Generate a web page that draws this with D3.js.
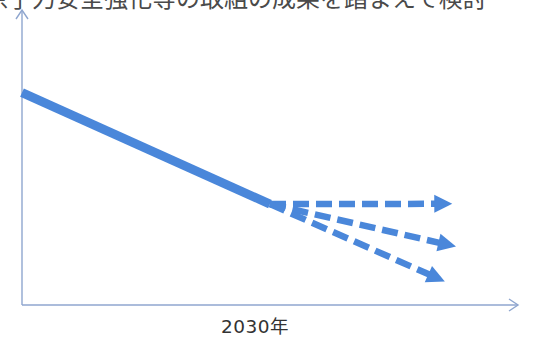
<!DOCTYPE html>
<html>
<head>
<meta charset="utf-8">
<script src="https://cdn.jsdelivr.net/npm/d3@7"></script>
<style>
  html, body { margin: 0; padding: 0; background: #fff; }
  svg { display: block; }
</style>
</head>
<body>
<svg id="chart" width="549" height="338"></svg>
<script>
// Headline (first line of the caption, partly above the visible area)
const headline = "原子力安全強化等の取組の成果を踏まえて検討";

// Axis label
const xTickLabel = "2030年";
const xTickYear = 2030;

// Past trend (solid line): [year, value]
const trendYears  = [2010, 2030];
const trendValues = [72, 34.2];

// Scenarios after 2030 (dashed arrows): start is the end of the trend
const scenarioNames  = ["維持", "緩やかな減少", "大幅な減少"];
const scenarioEndYears  = [2044.7, 2045.0, 2044.1];
const scenarioEndValues = [34.3, 19.8, 8.0];

const svg = d3.select("#chart");

const x = d3.scaleLinear().domain([2010, 2050]).range([22, 518]);
const y = d3.scaleLinear().domain([0, 100]).range([305, 10]);

const axisColor = "#8fa6cf";
const lineColor = "#4a87da";

// Headline text, clipped by the top edge
svg.append("text")
  .attr("x", -16)
  .attr("y", 7)
  .attr("font-family", "'Noto Sans CJK JP', sans-serif")
  .attr("font-size", 24)
  .attr("fill", "#4a4a4a")
  .text(headline);

// Axes with open arrowheads
const axisG = svg.append("g")
  .attr("stroke", axisColor)
  .attr("stroke-width", 1.4)
  .attr("fill", "none");

const x0 = x.range()[0], x1 = x.range()[1];
const y0 = y.range()[0], y1 = y.range()[1];

axisG.append("line").attr("x1", x0).attr("y1", y0).attr("x2", x0).attr("y2", y1);
axisG.append("path").attr("d", `M${x0 - 6},${y1 + 9} L${x0},${y1} L${x0 + 6},${y1 + 9}`);
axisG.append("line").attr("x1", x0).attr("y1", y0).attr("x2", x1).attr("y2", y0);
axisG.append("path").attr("d", `M${x1 - 9},${y0 - 6} L${x1},${y0} L${x1 - 9},${y0 + 6}`);

// Year label under the axis
svg.append("text")
  .attr("x", x(xTickYear) - 15)
  .attr("y", 333)
  .attr("text-anchor", "middle")
  .attr("font-family", "'DejaVu Sans', 'Noto Sans CJK JP', sans-serif")
  .attr("font-size", 18.5)
  .attr("letter-spacing", 0.5)
  .attr("fill", "#333")
  .text(xTickLabel);

// Solid trend line
const line = d3.line().x(d => x(d[0])).y(d => y(d[1]));
const trend = trendYears.map((yr, i) => [yr, trendValues[i]]);
svg.append("path")
  .attr("d", line(trend))
  .attr("fill", "none")
  .attr("stroke", lineColor)
  .attr("stroke-width", 9)
  .attr("stroke-linecap", "butt");

// Dashed scenario arrows
const startPt = [trendYears[1], trendValues[1]];
const headLen = 18, headHalf = 9;

scenarioNames.forEach((name, i) => {
  const sx = x(startPt[0]), sy = y(startPt[1]);
  const ex = x(scenarioEndYears[i]), ey = y(scenarioEndValues[i]);
  const dx = ex - sx, dy = ey - sy;
  const len = Math.hypot(dx, dy);
  const ux = dx / len, uy = dy / len;
  const bx = ex - ux * headLen, by = ey - uy * headLen;

  svg.append("line")
    .attr("x1", sx).attr("y1", sy)
    .attr("x2", bx + ux * 1).attr("y2", by + uy * 1)
    .attr("stroke", lineColor)
    .attr("stroke-width", 6.5)
    .attr("stroke-dasharray", "16,7");

  const px = -uy, py = ux;
  svg.append("path")
    .attr("d", `M${ex},${ey} L${bx + px * headHalf},${by + py * headHalf} L${bx - px * headHalf},${by - py * headHalf} Z`)
    .attr("fill", lineColor);
});
</script>
</body>
</html>
